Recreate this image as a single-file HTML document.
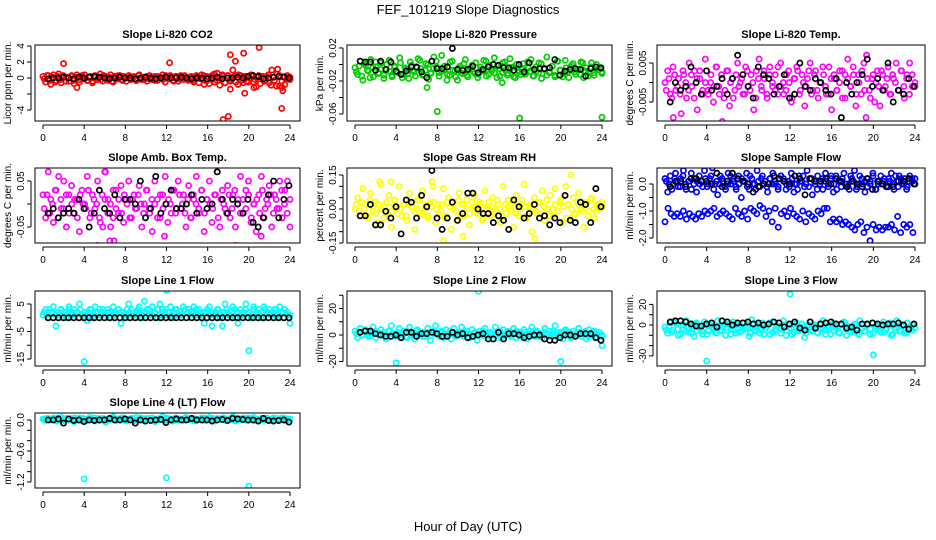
<!DOCTYPE html>
<html><head><meta charset="utf-8"><style>
html,body{margin:0;padding:0;background:#fff}
svg{display:block;font-family:"Liberation Sans",sans-serif}
</style></head><body>
<svg id="fig" width="936" height="540" viewBox="0 0 936 540">
<rect width="936" height="540" fill="#fff"/>
<text x="468" y="14" text-anchor="middle" font-size="13">FEF_101219  Slope Diagnostics</text>
<text x="468" y="531" text-anchor="middle" font-size="13">Hour of Day (UTC)</text>
</svg>
<script>
const xTicks = [0,4,8,12,16,20,24];

const co2Cloud = [0.2,-0.5,0.3,-0.8,0.4,-0.3,0.5,-0.6,0.1,0.1,-0.4,0.3,-0.7,0.4,-0.5,0.2,0.4,-0.3,0.1,-0.6,0.3,-0.2,0.5,-0.4,0.2,-0.3,0.4,-0.5,0.1,0.3,-0.2,0.2,-0.4,0.3,-0.1,0.2,-0.3,0.4,-0.2,0.1,-0.4,0.3,-0.2,0.2,-0.3,0.1,0.4,-0.5,0.2,0.3,-0.3,0.2,-0.4,0.3,-0.2,0.1,-0.3,0.2,-0.5,0.3,-0.6,0.4,-0.8,0.2,-0.7,0.3,-0.5,0.6,-0.9,0.4,-0.6,0.3,-0.4,1.0,0.3,-0.8,0.3,-0.6,0.2,-0.5,0.4,-0.5,-1.1,0.3,0.2,-0.4,0.2,-0.6,1.0,-0.3,0.5,-1.0,-1.2,-0.8,0.3,-0.2];
const co2Cloud2 = [-0.1,0.3,-0.3,0.1,-0.5,0.2,-0.2,0.3,-0.4,0.0,0.2,-0.3,0.1,-0.2,0.3,-0.1,-0.3,0.2,-0.4,0.1,0.0,-0.2,0.3,-0.1,0.1,-0.4,0.2,-0.1,0.3,-0.3,0.0,0.2,-0.2,0.1,-0.3,0.3,0.0,-0.2,0.2,-0.1,0.1,-0.3,0.2,0.0,-0.2,0.3,-0.1,0.1,-0.4,0.2,-0.1,0.0,0.3,-0.2,0.1,-0.3,0.2,0.0,-0.1,0.3,-0.4,0.1,-0.2,0.5,-0.3,0.0,0.2,-0.6,0.3,-0.2,0.1,-0.5,0.4,-0.3,0.2,-0.4,0.0,0.3,-0.2,0.1,-0.7,0.2,-0.3,0.4,-0.9,0.1,-1.0,0.3,-0.4,0.2,-0.1,0.1];
const co2OutH = [2,3.3,12.3,17.5,18,18.2,18.7,19.5,19.6,21,23.2,23.3,18.2,20.5,22.8];
const co2OutV = [1.8,-1.2,1.9,-5.2,-4.8,2.9,2.1,3.1,-1.9,3.8,-3.8,-1.6,-1.4,-1.2,1.1];
const co2Black = [-0.1,0,0,0.1,0,-0.1,0.1,0,0.1,0.2,0.1,0,-0.1,0,0.1,0,0,-0.1,0,0.1,0,-0.1,0,0.1,0,0,0.1,0,-0.1,0,0,-0.1,0,0.1,-0.1,0,0,0.1,0,0.2,0.3,0.2,-0.1,0,0.1,0.2,0.1,0];

const presCloud = [-0.004,-0.012,0.004,-0.019,-0.001,-0.008,0.006,-0.015,-0.003,-0.010,0.002,-0.017,-0.006,0.005,-0.013,-0.002,-0.009,0.008,-0.016,-0.004,-0.011,0.003,-0.007,-0.014,0.007,-0.005,-0.012,0.001,-0.018,-0.010,0.009,-0.003,-0.010,0.011,-0.006,-0.019,-0.013,0.004,-0.008,-0.019,-0.002,-0.011,0.006,-0.015,-0.004,-0.009,0.002,-0.012,-0.006,0.005,-0.014,-0.001,-0.008,0.008,-0.016,-0.005,-0.010,0.003,-0.013,0.007,-0.003,-0.016,-0.007,-0.012,0.001,-0.011,-0.004,0.006,-0.014,-0.008,0.002,-0.017,-0.005,0.009,-0.010,-0.002,-0.013,0.004,-0.007,-0.015,0.005,-0.009,-0.003,0.001,-0.012,-0.006,0.003,-0.016,-0.004,-0.010,0.002,-0.013,-0.007,-0.005,-0.009];
const presCloud2 = [-0.009,-0.002,-0.014,0.001,-0.007,-0.016,-0.004,0.003,-0.011,-0.006,-0.013,0.000,-0.008,-0.015,-0.003,-0.010,0.002,-0.012,-0.006,-0.017,-0.001,-0.009,-0.004,0.005,-0.013,-0.007,0.000,-0.011,-0.005,0.004,-0.014,-0.008,-0.002,-0.012,0.003,-0.007,-0.015,-0.004,-0.010,0.001,-0.013,-0.006,-0.001,-0.011,-0.016,-0.003,-0.008,0.004,-0.012,-0.005,-0.010,-0.002,-0.014,0.002,-0.007,-0.011,-0.004,-0.015,0.000,-0.009,-0.006,-0.012,0.003,-0.008,-0.014,-0.003,-0.010,0.001,-0.006,-0.013,-0.009,-0.002,-0.015,0.004,-0.007,-0.011,-0.004,-0.016,-0.001,-0.009,-0.006,-0.012,0.002,-0.008,-0.014,-0.003,-0.010,0.000,-0.006,-0.011];
const presOutH = [7,8,14.3,16,24];
const presOutV = [-0.028,-0.057,-0.022,-0.065,-0.064];
const presBlack = [0.004,0.003,0.003,-0.007,0.004,-0.006,0.003,-0.008,-0.012,-0.008,-0.003,-0.003,-0.009,-0.016,0.004,-0.005,-0.005,-0.003,0.0195,-0.006,-0.007,-0.006,-0.002,-0.01,-0.006,-0.003,0.0,-0.001,-0.004,-0.004,-0.007,0.0,-0.009,0.002,-0.006,-0.005,-0.005,-0.004,0.006,-0.013,-0.008,-0.006,-0.005,-0.006,-0.014,-0.005,-0.003,-0.004];

const tempCloud = [0.000,0.003,-0.003,0.004,-0.002,0.001,-0.008,0.002,-0.004,0.005,-0.001,0.003,-0.007,0.001,-0.003,0.006,-0.002,0.000,-0.005,0.004,-0.001,0.002,-0.004,0.003,-0.006,0.001,-0.002,0.005,0.000,-0.003,0.004,-0.001,0.002,-0.007,0.003,0.006,-0.002,0.001,-0.004,0.004,-0.001,0.002,-0.003,0.005,0.000,-0.002,0.003,-0.005,0.001,0.004,-0.003,0.002,-0.006,0.001,0.005,-0.002,0.003,-0.004,0.000,0.002,-0.003,0.004,-0.007,0.001,-0.002,0.003,-0.004,0.002,0.006,-0.001,0.004,-0.006,0.002,-0.003,0.005,0.007,-0.002,0.001,-0.005,0.003,-0.006,0.002,-0.001,0.004,-0.003,0.001,0.005,-0.002,0.003,-0.004,0.002,0.005,-0.001,0.000];
const tempCloud2 = [-0.002,0.001,-0.004,0.002,-0.001,-0.003,0.003,0.000,-0.002,0.002,-0.004,0.001,0.003,-0.002,0.000,-0.003,0.002,-0.001,0.004,-0.003,0.001,-0.002,0.003,0.000,-0.004,0.002,-0.001,0.001,-0.003,0.003,-0.002,0.000,-0.004,0.001,-0.001,0.003,-0.003,0.002,0.000,-0.002,0.004,-0.001,-0.003,0.002,0.000,-0.004,0.001,0.003,-0.002,0.000,-0.001,0.003,-0.003,0.002,-0.002,0.000,0.004,-0.001,-0.003,0.001,0.002,-0.002,0.000,0.003,-0.004,0.001,-0.001,0.002,-0.003,0.000,0.003,-0.002,0.001,-0.004,0.002,0.000,-0.001,0.003,-0.002,0.001,-0.003,0.002,0.000,-0.002,0.003,-0.001,0.001,-0.003,0.002,-0.001];
const tempOutH = [0.8,2.9,3.1,5.5,15.9,18.5,19.3];
const tempOutV = [-0.009,0.011,-0.011,-0.010,-0.012,-0.011,-0.009];
const tempBlack = [-0.005,0.0,-0.002,-0.001,0.004,0.0,-0.003,0.003,-0.002,-0.001,0.001,-0.003,0.001,0.007,0.002,-0.001,-0.004,0.004,0.002,0.001,-0.003,-0.001,0.002,-0.004,-0.003,0.005,-0.001,-0.002,0.001,0.0,-0.002,-0.003,0.001,-0.009,0.0,-0.003,0.0,0.002,0.006,-0.001,0.001,-0.002,0.005,-0.005,-0.002,-0.003,0.001,-0.001];

const ambCloud = [0.02,-0.03,0.07,0.01,-0.04,0.03,0.06,-0.01,0.05,-0.05,0.02,0.04,-0.02,0.01,-0.06,0.03,0.00,0.06,-0.03,0.02,-0.01,0.05,-0.04,-0.05,0.07,0.01,-0.05,-0.03,0.03,-0.02,0.04,-0.04,0.01,0.05,-0.03,0.02,-0.01,0.04,-0.05,0.00,0.03,-0.02,-0.06,0.05,0.01,-0.03,0.02,0.06,-0.04,0.00,0.03,-0.02,0.05,-0.01,0.02,-0.05,0.04,-0.03,0.01,0.06,-0.02,0.03,-0.06,0.01,0.05,-0.04,0.02,0.07,-0.05,0.03,-0.01,0.04,-0.03,0.02,-0.05,0.01,0.06,-0.02,0.03,0.05,-0.04,0.00,-0.06,0.02,0.06,-0.03,0.01,0.04,-0.05,0.02,-0.01,0.05,-0.03,0.03,0.05,-0.05];
const ambCloud2 = [-0.01,0.02,-0.02,0.00,0.03,-0.03,0.01,-0.01,0.02,-0.02,0.00,0.01,-0.03,0.02,0.00,-0.01,0.03,-0.02,0.01,0.00,-0.03,0.02,0.01,-0.02,0.00,0.03,-0.01,0.01,-0.02,0.02,0.00,-0.03,0.01,-0.01,0.02,0.00,-0.02,0.03,-0.01,0.01,0.00,-0.03,0.02,-0.01,0.00,0.01,-0.02,0.03,-0.01,0.02,0.00,-0.02,0.01,-0.03,0.02,0.00,-0.01,0.03,-0.02,0.01,0.00,-0.01,0.02,-0.03,0.01,0.00,-0.02,0.02,-0.01,0.03,0.00,-0.02,0.01,-0.01,0.02,-0.03,0.00,0.01,-0.02,0.03,-0.01,0.00,0.02,-0.02,0.01,-0.01,0.03,0.00,-0.02,0.01];
const ambOutH = [5.3,6,6.5,6.9,11.8,18.7,21.2];
const ambOutV = [-0.09,0.07,-0.08,-0.08,-0.07,-0.09,-0.07];
const ambBlack = [-0.02,-0.01,-0.03,-0.02,-0.01,-0.02,0.01,-0.01,-0.05,-0.02,0.03,-0.01,-0.02,0.02,-0.03,0.01,0.01,0.0,0.05,-0.03,-0.01,0.06,-0.02,0.0,0.03,-0.01,-0.01,0.0,0.02,-0.02,0.01,-0.01,0.0,0.07,0.01,-0.02,0.01,0.0,-0.02,0.01,-0.04,-0.05,-0.03,0.02,0.05,-0.03,0.01,0.04];

const rhCloud = [0.00,0.05,-0.03,0.09,0.02,-0.04,0.07,-0.01,0.03,-0.06,0.11,0.01,-0.02,0.06,-0.08,0.04,0.00,0.10,-0.03,0.02,-0.05,0.07,0.01,-0.09,0.04,-0.02,0.08,0.00,-0.04,0.03,0.10,-0.06,0.02,-0.01,0.09,-0.03,0.05,-0.09,0.01,-0.05,0.07,0.02,-0.03,0.04,-0.07,0.00,0.06,-0.02,0.03,-0.05,0.08,0.01,-0.03,0.05,-0.01,0.02,-0.06,0.10,-0.02,0.04,0.00,-0.08,0.06,-0.03,0.02,0.11,-0.04,0.01,-0.10,0.05,-0.02,0.03,0.08,-0.05,0.00,0.06,-0.03,0.09,-0.01,0.04,-0.06,0.10,0.02,-0.04,0.05,-0.02,0.07,0.00,-0.08,0.03,-0.01,0.05,-0.04,0.02,0.00,0.03];
const rhCloud2 = [0.02,-0.01,0.03,0.00,-0.03,0.04,0.01,-0.02,0.02,0.00,-0.04,0.03,0.01,-0.01,0.04,-0.02,0.00,0.02,-0.03,0.03,0.01,-0.01,0.00,0.04,-0.02,0.02,-0.03,0.01,0.03,0.00,-0.02,0.02,-0.04,0.03,0.01,0.00,-0.01,0.04,-0.03,0.02,0.00,-0.02,0.03,0.01,-0.01,0.02,-0.04,0.00,0.03,0.01,-0.02,0.04,0.00,-0.03,0.02,0.01,-0.01,0.03,-0.02,0.00,0.04,0.01,-0.03,0.02,0.00,-0.01,0.03,-0.02,0.01,0.04,-0.03,0.00,0.02,-0.01,0.03,0.01,-0.04,0.02,0.00,-0.02,0.03,0.01,-0.01,0.02,-0.03,0.04,0.00,-0.01,0.02,0.01];
const rhOutH = [2.4,3.5,7.5,8.6,10.5,17.5,21];
const rhOutV = [0.12,0.12,0.12,-0.14,-0.12,-0.13,0.15];
const rhBlack = [-0.03,-0.03,0.02,-0.07,-0.07,-0.01,-0.04,0.01,-0.11,0.04,0.03,-0.04,0.06,0.01,0.17,-0.04,-0.09,-0.04,0.03,-0.05,-0.02,0.07,0.07,0.0,-0.02,-0.02,-0.06,-0.03,-0.05,-0.09,0.04,0.01,-0.04,-0.02,0.02,-0.04,-0.03,-0.07,-0.04,-0.06,0.06,-0.05,-0.06,0.03,0.02,-0.06,0.09,0.01];

const flowUpper = [0.2,-0.3,0.3,0.0,0.4,-0.1,0.2,0.5,-0.2,0.1,0.4,0.0,-0.3,0.3,0.1,0.5,-0.1,0.2,0.6,0.0,-0.4,0.3,0.1,-0.2,0.4,0.0,0.2,-0.1,0.3,-0.5,0.1,0.4,-0.2,0.2,0.0,0.5,-0.1,0.3,0.1,-0.3,0.2,0.4,0.0,-0.1,0.3,0.2,-0.2,0.1,0.4,-0.3,0.0,0.3,0.1,-0.1,0.5,0.2,-0.4,0.0,0.3,0.1,-0.2,0.4,0.0,0.2,-0.3,0.3,0.1,-0.1,0.4,0.0,-0.2,0.2,0.5,-0.1,0.3,0.0,-0.3,0.2,0.1,0.4,-0.2,0.0,0.3,0.1,-0.1,0.2,0.4,-0.2,0.1,0.3,0.0,0.2,-0.1,0.3,0.1,0.2];
const flowUpper2 = [0.1,0.0,-0.2,0.2,0.1,-0.1,0.3,0.0,0.1,-0.2,0.2,0.1,0.0,-0.1,0.2,0.0,0.3,-0.2,0.1,0.0,0.2,-0.1,0.0,0.3,0.1,-0.2,0.0,0.2,0.1,-0.1,0.3,0.0,-0.2,0.1,0.2,0.0,-0.1,0.2,0.0,0.1,-0.2,0.3,0.1,0.0,-0.1,0.2,0.0,-0.2,0.1,0.3,0.0,-0.1,0.2,0.1,-0.2,0.0,0.2,0.1,-0.1,0.3,0.0,-0.2,0.1,0.2,0.0,-0.1,0.3,0.1,-0.2,0.0,0.2,0.1,-0.1,0.0,0.3,-0.2,0.1,0.0,0.2,-0.1,0.1,0.0,0.3,-0.1,0.2,0.0,-0.2,0.1,0.2,0.0];
const flowLower = [-1.4,-0.9,-1.1,-1.2,-1.1,-1.2,-1.0,-1.3,-1.1,-1.2,-1.3,-1.1,-1.2,-1.0,-1.1,-1.0,-0.9,-1.2,-1.1,-1.0,-1.1,-1.2,-1.3,-0.9,-1.1,-1.2,-1.0,-1.3,-0.9,-1.0,-1.1,-0.8,-0.9,-1.2,-1.0,-1.4,-0.9,-1.6,-1.1,-1.0,-1.2,-0.9,-1.1,-1.2,-1.3,-1.0,-1.4,-1.1,-1.2,-1.3,-1.0,-1.1,-0.9,-0.9,-1.4,-1.3,-1.4,-1.3,-1.5,-1.4,-1.5,-1.6,-1.7,-1.5,-1.4,-1.8,-1.6,-2.1,-1.5,-1.7,-1.6,-1.7,-1.6,-1.6,-1.5,-1.7,-1.2,-1.8,-1.5,-1.6,-1.5,-1.8];
const flowBlack = [-0.1,0.1,0.1,-0.1,0.2,0.2,0.1,0.1,0.0,0.4,-0.1,0.1,0.4,0.2,0.1,0.0,-0.3,-0.1,0.0,0.0,0.3,0.2,0.1,0.0,0.3,0.2,-0.4,0.2,0.1,0.1,0.2,0.0,0.2,0.1,-0.1,0.1,0.0,-0.1,0.2,-0.2,0.1,0.0,-0.1,-0.1,0.1,0.1,0.2,0.0];

const line1Cloud = [1,3,0,2,4,-3,1,3,2,0,4,1,3,2,5,1,2,-1,3,0,4,2,1,3,2,2,0,4,1,3,-2,2,0,5,3,1,2,4,0,6,3,1,4,2,0,5,3,1,2,4,0,3,1,2,4,0,3,2,4,1,3,0,-2,2,4,-3,1,3,0,-3,5,2,1,4,0,-2,3,1,5,2,0,4,1,3,0,4,2,3,1,3,0,4,2,3,1,-2];
const line1Cloud2 = [2,1,3,2,1,2,3,1,2,3,2,1,2,3,1,2,2,3,1,2,3,2,1,3,2,1,2,3,2,1,3,2,1,2,3,1,2,2,3,1,2,3,1,2,3,2,1,2,3,2,1,3,2,1,2,3,2,1,2,3,1,2,2,3,1,2,3,1,2,3,2,1,2,3,2,1,3,2,1,2,3,2,1,2,3,1,2,3,2,1];
const line1OutH = [4,12,20];
const line1OutV = [-16,10,-12];
const line1Black = [0,0,0,0,0,0,0,0,0,0,0,0,0,0,0,0,0,0,0,0,0,0,0,0,0,0,0,0,0,0,0,0,0,0,0,0,0,0,0,0,0,0,0,0,0,0,0,0];

const line2Cloud = [3,-2,5,0,4,-1,2,6,-2,1,4,0,-3,3,7,1,-1,5,0,3,-2,6,1,-3,4,0,2,-1,5,-4,2,7,0,3,-2,4,1,-3,5,0,2,6,-1,3,-2,4,1,-4,3,0,5,-1,2,-3,6,1,-2,4,0,3,-1,5,-2,2,0,4,-3,1,6,-1,3,0,-2,5,1,-1,3,7,0,2,-3,4,1,-2,3,0,5,-1,2,-3,4,0,3,-2,2,0];
const line2Cloud2 = [1,2,0,3,1,-1,2,3,0,1,2,-1,3,1,0,2,1,3,-1,2,0,1,3,2,-1,1,2,0,3,1,-1,2,1,0,3,2,-1,1,0,2,3,1,-1,2,0,1,3,-1,2,1,0,2,3,-1,1,2,0,1,3,0,-1,2,1,3,0,2,-1,1,2,0,3,1,-1,2,0,1,3,2,-1,1,0,2,1,3,-1,0,2,1,0,-1];
const line2OutH = [4,12,20,24];
const line2OutV = [-21,33,-20,-8];
const line2Black = [2,3,3,1,0,-1,-1,0,-2,2,2,-1,1,1,2,1,-1,-1,2,0,1,-2,-1,0,1,-3,-3,2,-3,1,1,0,-2,-1,0,0,-3,-4,-4,-2,0,0,-1,1,1,1,-2,-4];

const line3Cloud = [-2,-8,2,-5,3,-10,0,-4,4,-7,-1,-11,2,-3,-6,3,-9,0,-2,-7,4,-5,-1,-10,1,-4,3,-8,0,-6,2,-3,-11,5,-5,-1,-8,2,-4,0,-9,3,-6,-1,-4,4,-10,0,-3,-7,2,-5,1,-12,-2,3,-6,0,-8,-3,4,-5,-1,-9,2,-4,-7,0,3,-10,-2,-5,1,-8,4,-3,-6,0,-9,2,-4,-1,-7,3,-5,0,-10,-2,4,-6,-1,-8,2,-4,0,-3];
const line3Cloud2 = [-5,-1,-7,2,-4,-9,0,-6,-2,-8,1,-5,-3,-9,0,-6,2,-4,-8,-1,-6,1,-3,-9,-5,0,-7,-2,-4,1,-8,-3,-6,0,-5,-9,-2,2,-7,-4,-1,-8,0,-5,-3,-9,1,-6,-2,-4,-8,0,-5,-2,-7,1,-4,-9,-3,0,-6,-1,-8,-4,2,-5,-7,-2,0,-9,-3,-6,1,-4,-8,-1,-5,0,-7,-3,2,-9,-4,-1,-6,0,-8,-2,-5,-3];
const line3OutH = [4,12,20];
const line3OutV = [-35,30,-29];
const line3Black = [3,4,4,3,1,-1,-1,1,2,-2,4,3,0,2,2,3,1,2,0,1,3,2,-2,1,3,-3,-5,3,-3,1,2,3,1,1,-3,-2,-5,1,1,2,1,0,1,1,2,0,-4,1];

const line4Cloud = [0.02,-0.01,0.03,0.00,0.04,-0.02,0.01,0.05,-0.01,0.02,0.00,0.03,-0.03,0.01,0.04,0.00,0.02,-0.01,0.05,0.01,-0.02,0.03,0.00,0.02,-0.04,0.01,0.03,0.06,-0.01,0.02,0.00,0.04,-0.02,0.01,0.03,-0.01,0.05,0.00,0.02,-0.02,0.03,0.01,0.04,-0.03,0.00,0.02,0.06,-0.01,0.03,0.01,-0.02,0.04,0.00,0.02,-0.01,0.05,0.01,0.03,-0.02,0.02,0.00,0.04,-0.01,0.02,0.05,0.00,-0.02,0.03,0.01,0.04,-0.01,0.02,0.00,0.06,-0.02,0.03,0.01,0.04,0.00,-0.01,0.02,0.05,0.01,-0.02,0.03,0.00,0.04,0.01,-0.01,0.02,0.03,0.00,0.04,-0.01,0.02,0.01];
const line4Cloud2 = [0.01,0.03,0.00,0.02,0.01,0.04,-0.01,0.02,0.03,0.00,0.01,0.04,0.02,-0.01,0.03,0.01,0.00,0.02,0.04,0.01,-0.01,0.03,0.02,0.00,0.01,0.03,-0.01,0.02,0.04,0.00,0.01,0.02,0.03,-0.01,0.01,0.04,0.02,0.00,0.03,0.01,-0.01,0.02,0.03,0.00,0.04,0.01,0.02,-0.01,0.03,0.00,0.01,0.04,0.02,0.00,0.03,-0.01,0.01,0.02,0.04,0.00,0.01,0.03,-0.01,0.02,0.01,0.04,0.00,0.02,0.03,-0.01,0.01,0.02,0.00,0.03,0.04,0.01,-0.01,0.02,0.00,0.03,0.01,0.02,-0.01,0.04,0.00,0.02,0.01,0.03,0.00,0.02];
const line4OutH = [4,12,20];
const line4OutV = [-1.14,-1.12,-1.28];
const line4Black = [0.0,0.0,0.02,-0.06,0.02,-0.01,0.0,-0.03,0.0,-0.01,0.0,0.0,0.03,0.0,0.0,0.02,0.0,-0.06,0.0,-0.02,-0.01,0.0,0.01,-0.05,0.0,0.02,0.0,0.0,0.03,0.0,0.0,0.0,-0.02,0.0,0.01,-0.01,0.03,0.02,0.01,0.0,0.0,-0.02,0.03,-0.01,-0.02,-0.01,0.0,-0.04];

const panels = [
 {id:'co2',title:'Slope Li-820 CO2',ylab:'Licor ppm per min.',col:0,row:0,dom:[-5.375,4.125],ticks:[-4,-2,0,2,4],labels:['-4','','0','2','4'],color:'#ff0000',clouds:[co2Cloud,co2Cloud2],outH:co2OutH,outV:co2OutV,black:co2Black},
 {id:'pressure',title:'Slope Li-820 Pressure',ylab:'kPa per min.',col:1,row:0,dom:[-0.0685,0.0236],ticks:[-0.06,-0.04,-0.02,0,0.02],labels:['-0.06','','-0.02','','0.02'],color:'#00cd00',clouds:[presCloud,presCloud2],outH:presOutH,outV:presOutV,black:presBlack},
 {id:'li820-temp',title:'Slope Li-820 Temp.',ylab:'degrees C per min.',col:2,row:0,dom:[-0.00987,0.00962],ticks:[-0.005,0,0.005],labels:['-0.005','','0.005'],color:'#ff00ff',clouds:[tempCloud,tempCloud2],outH:tempOutH,outV:tempOutV,black:tempBlack},
 {id:'amb-temp',title:'Slope Amb. Box Temp.',ylab:'degrees C per min.',col:0,row:1,dom:[-0.0848,0.0783],ticks:[-0.05,0,0.05],labels:['-0.05','','0.05'],color:'#ff00ff',clouds:[ambCloud,ambCloud2],outH:ambOutH,outV:ambOutV,black:ambBlack},
 {id:'rh',title:'Slope Gas Stream RH',ylab:'percent per min.',col:1,row:1,dom:[-0.15,0.181],ticks:[-0.15,-0.1,-0.05,0,0.05,0.1,0.15],labels:['-0.15','','','0.00','','','0.15'],color:'#ffff00',clouds:[rhCloud,rhCloud2],outH:rhOutH,outV:rhOutV,black:rhBlack},
 {id:'sample-flow',title:'Slope Sample Flow',ylab:'ml/min per min.',col:2,row:1,dom:[-2.185,0.593],ticks:[-2,-1.5,-1,-0.5,0],labels:['-2.0','','-1.0','','0.0'],color:'#0000ff',clouds:[flowUpper,flowUpper2,flowLower],outH:[],outV:[],black:flowBlack},
 {id:'line1',title:'Slope Line 1 Flow',ylab:'ml/min per min.',col:0,row:2,dom:[-17.55,9.73],ticks:[-15,-10,-5,0,5],labels:['-15','','-5','','5'],color:'#00ffff',clouds:[line1Cloud,line1Cloud2],outH:line1OutH,outV:line1OutV,black:line1Black},
 {id:'line2',title:'Slope Line 2 Flow',ylab:'ml/min per min.',col:1,row:2,dom:[-23.4,33.2],ticks:[-20,-10,0,10,20,30],labels:['-20','','0','','20',''],color:'#00ffff',clouds:[line2Cloud,line2Cloud2],outH:line2OutH,outV:line2OutV,black:line2Black},
 {id:'line3',title:'Slope Line 3 Flow',ylab:'ml/min per min.',col:2,row:2,dom:[-39.8,33.0],ticks:[-30,-20,-10,0,10,20],labels:['-30','','','0','','20'],color:'#00ffff',clouds:[line3Cloud,line3Cloud2],outH:line3OutH,outV:line3OutV,black:line3Black},
 {id:'line4',title:'Slope Line 4 (LT) Flow',ylab:'ml/min per min.',col:0,row:3,dom:[-1.316,0.135],ticks:[-1.2,-1.0,-0.8,-0.6,-0.4,-0.2,0],labels:['-1.2','','','-0.6','','','0.0'],color:'#00ffff',clouds:[line4Cloud,line4Cloud2],outH:line4OutH,outV:line4OutV,black:line4Black}
];

const NS='http://www.w3.org/2000/svg';
const svg=document.getElementById('fig');
const colL=[35,347,657], colR=[300,612,925];
const rowT=[45,168,291,413], rowB=[121,243,366,488];
function mk(tag,attrs,parent){const e=document.createElementNS(NS,tag);for(const k in attrs)e.setAttribute(k,attrs[k]);parent.appendChild(e);return e;}

panels.forEach(p=>{
  const L=colL[p.col],R=colR[p.col],T=rowT[p.row],B=rowB[p.row];
  const g=mk('g',{},svg);
  
  
  const xs=h=>L+8+(h/24)*(R-L-18);
  const ys=v=>B-(v-p.dom[0])/(p.dom[1]-p.dom[0])*(B-T);
  const clip='clip-'+p.id;
  const cp=mk('clipPath',{id:clip},g); mk('rect',{x:L,y:T,width:R-L,height:B-T},cp);
  const pts=mk('g',{'clip-path':'url(#'+clip+')',fill:'none','stroke-width':1.7},g);
  p.clouds.forEach((arr,ci)=>{
    const cg=mk('g',{stroke:p.color},pts);
    
    
    const isLower = (arr===flowLower);
    const span = isLower?23.8:24;
    const start = (ci%2===1 && !isLower)?0.12:0;
    arr.forEach((v,i)=>{
      const c=mk('circle',{cx:xs(start+i*(span-start)/(arr.length-1)),cy:ys(v),r:2.6},cg);
      
      
    });
  });
  const og=mk('g',{stroke:p.color},pts);
  
  
  p.outH.forEach((h,i)=>{
    const c=mk('circle',{cx:xs(h),cy:ys(p.outV[i]),r:2.6},og);
    
    
  });
  const bg=mk('g',{stroke:'#000'},pts);
  
  
  p.black.forEach((v,i)=>{
    const c=mk('circle',{cx:xs(0.5+i*23.4/(p.black.length-1)),cy:ys(v),r:2.6},bg);
    
    
  });
  const box=mk('rect',{x:L,y:T,width:R-L,height:B-T,fill:'none',stroke:'#000','stroke-width':1},g);
  
  
  const t=mk('text',{x:(L+R)/2,y:T-7,'text-anchor':'middle','font-size':11,'font-weight':'bold'},g);
  t.textContent=p.title;
  
  
  const xa=mk('g',{stroke:'#000','font-size':10},g);
  
  
  mk('line',{x1:xs(xTicks[0]),x2:xs(xTicks[xTicks.length-1]),y1:B+4,y2:B+4},xa);
  xTicks.forEach(h=>{
    mk('line',{x1:xs(h),x2:xs(h),y1:B+4,y2:B+8},xa);
    const lt=mk('text',{x:xs(h),y:B+20,'text-anchor':'middle',stroke:'none',fill:'#000'},xa);
    lt.textContent=h;
    
    
  });
  const ya=mk('g',{stroke:'#000','font-size':10},g);
  
  
  mk('line',{x1:L-4,x2:L-4,y1:ys(p.ticks[0]),y2:ys(p.ticks[p.ticks.length-1])},ya);
  p.ticks.forEach((v,i)=>{
    const y=ys(v);
    mk('line',{x1:L-8,x2:L-4,y1:y,y2:y},ya);
    if(p.labels[i]){
      const lt=mk('text',{x:L-11,y:y,'text-anchor':'middle',transform:'rotate(-90 '+(L-11)+' '+y+')',stroke:'none',fill:'#000'},ya);
      lt.textContent=p.labels[i];
      
      
    }
  });
  const yl=mk('text',{x:L-24,y:(T+B)/2,'text-anchor':'middle','font-size':10,transform:'rotate(-90 '+(L-24)+' '+((T+B)/2)+')'},g);
  yl.textContent=p.ylab;
  
  
});
</script>
</body></html>
